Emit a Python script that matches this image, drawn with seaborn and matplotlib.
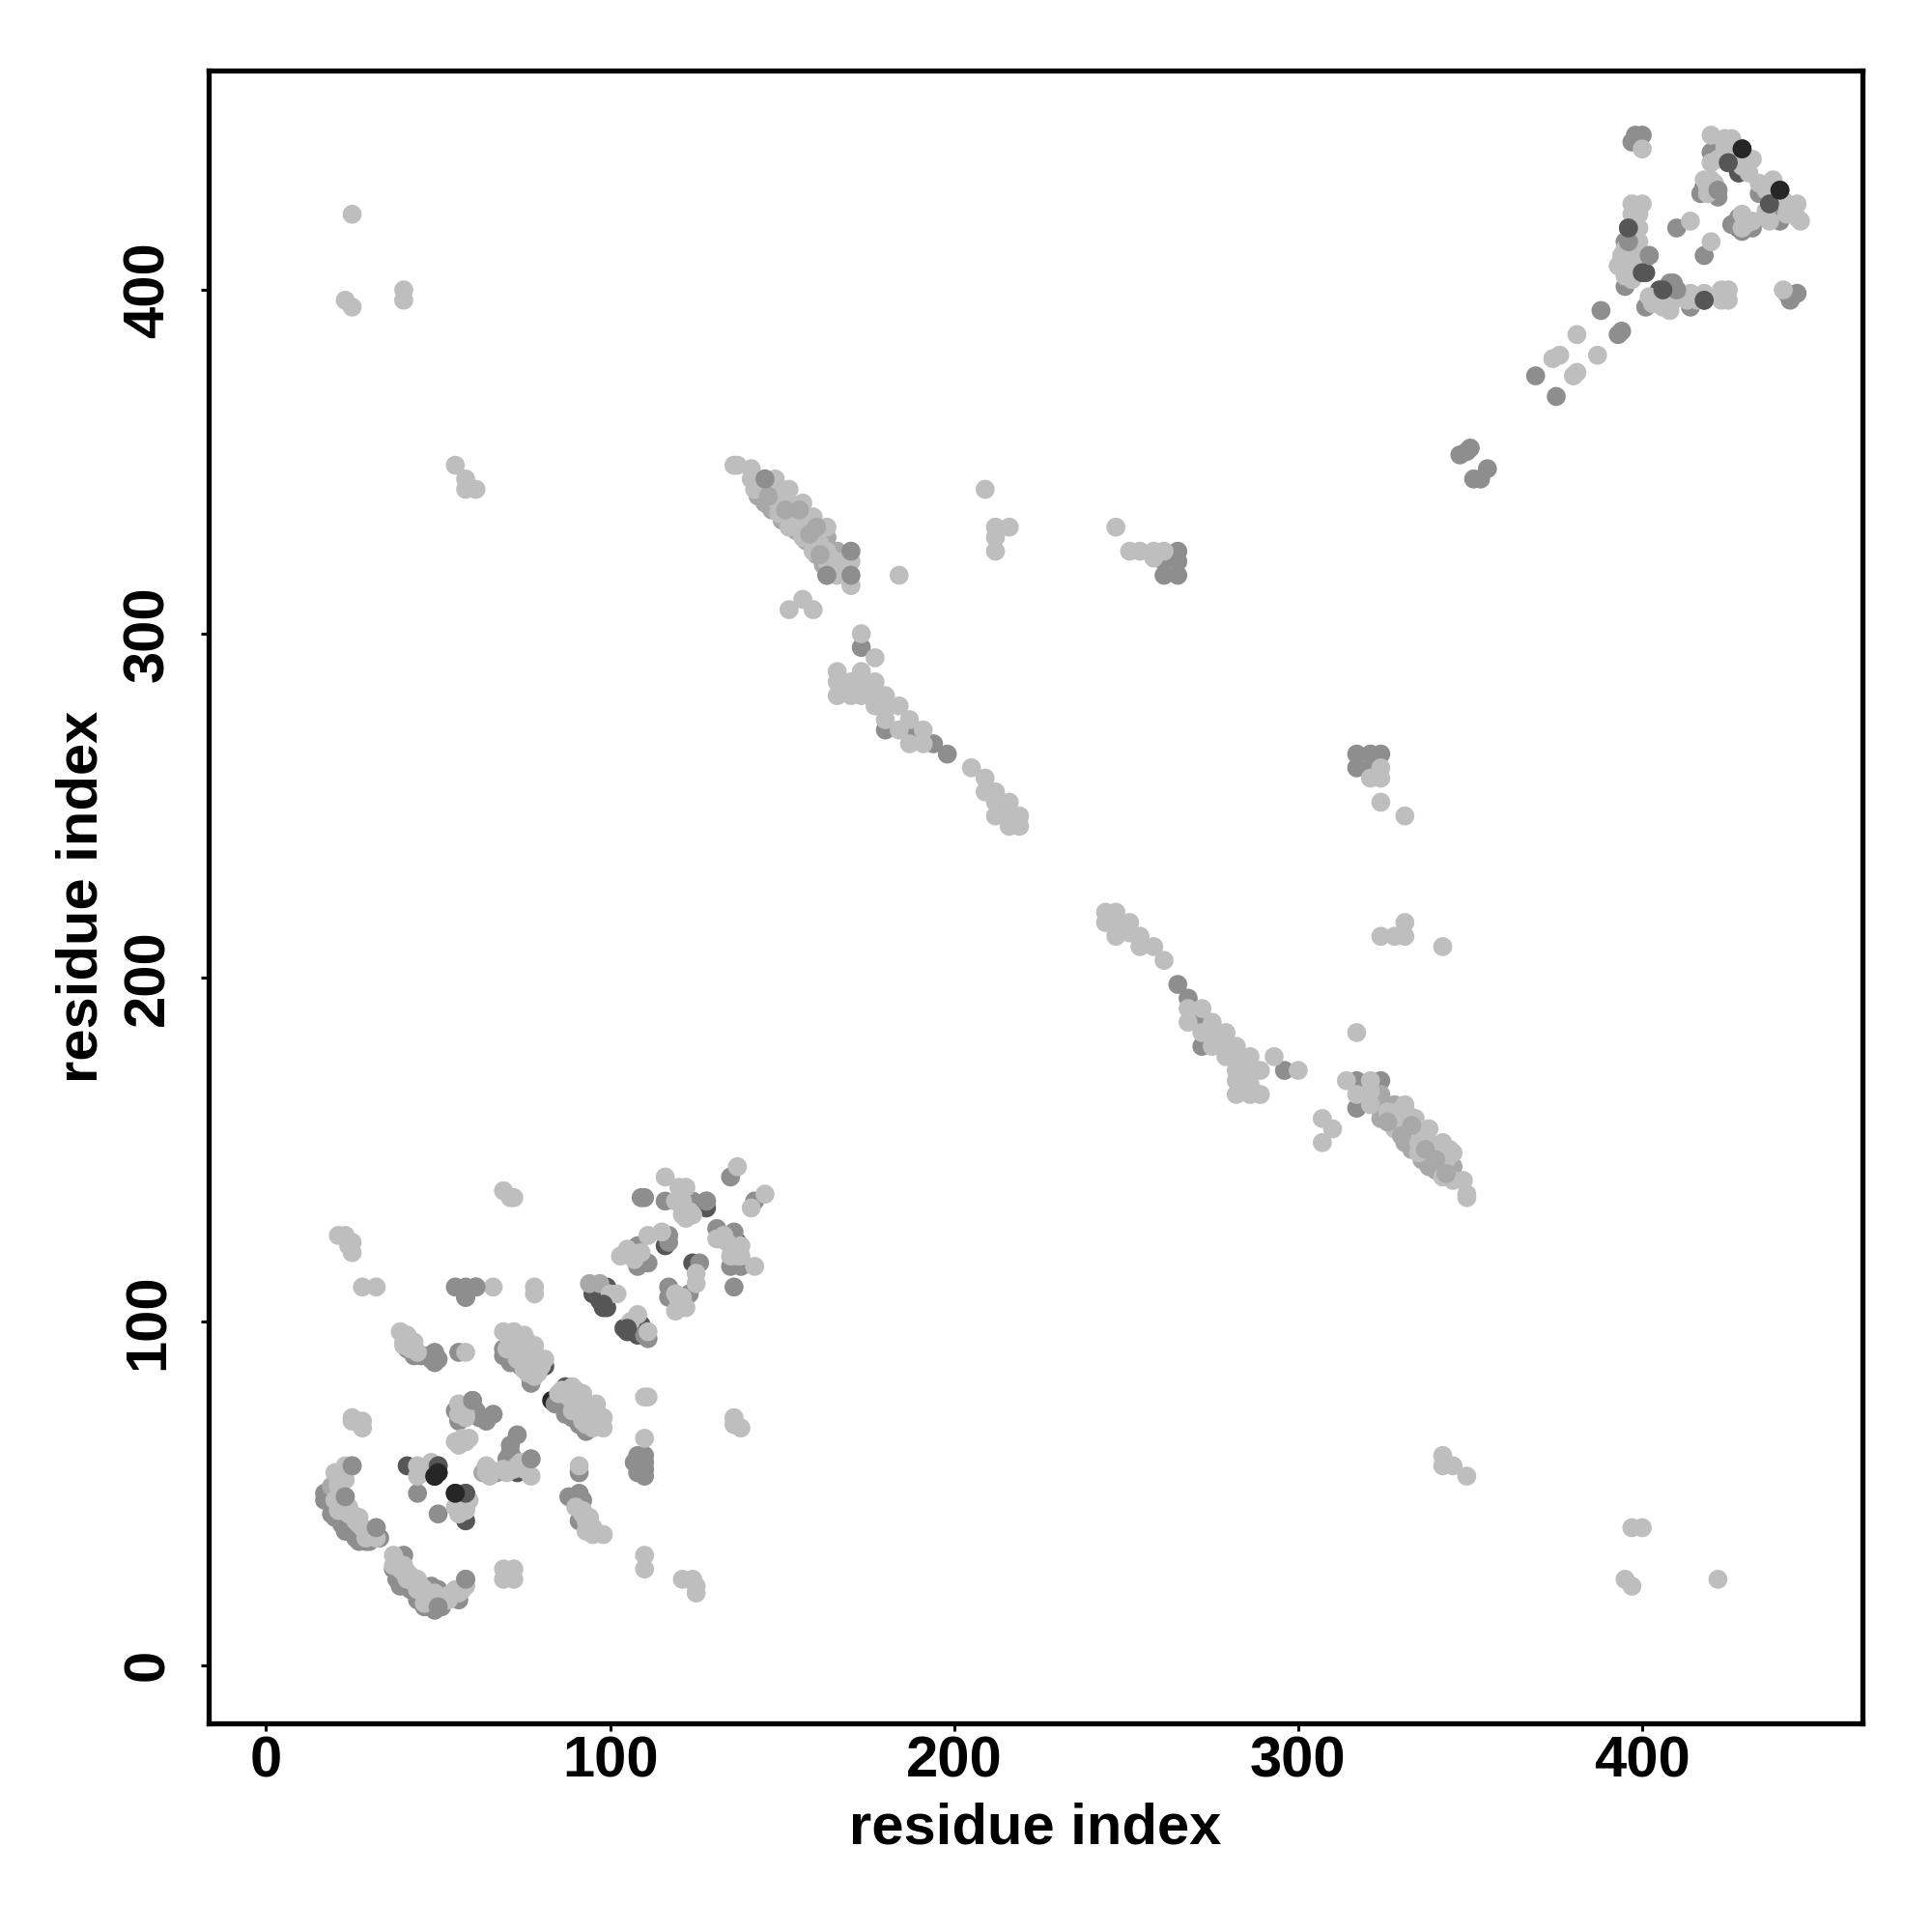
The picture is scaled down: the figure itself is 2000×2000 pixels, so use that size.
import matplotlib
matplotlib.use("Agg")
import matplotlib.pyplot as plt
import pandas as pd
import seaborn as sns

# residue contact pairs (x, y), grouped by grey level
black_pts = [(49, 55), (50, 56), (55, 50), (56, 49), (77, 83), (83, 77), (429, 441), (440, 429)]

dark_pts = [
    (41, 58), (50, 58), (58, 50), (58, 42), (73, 56), (81, 87), (87, 81),
    (99, 110), (95, 108), (98, 106), (98, 104), (104, 98), (107, 98), (109, 99),
    (96, 109), (97, 106), (99, 104), (105, 97), (108, 96),
    (124, 117), (137, 123), (116, 122), (128, 133), (396, 418), (400, 406),
    (405, 400), (418, 397), (425, 437), (428, 418), (437, 425), (418, 430),
    (428, 434), (401, 405), (406, 399),
]

mid_pts = [
    (55, 110), (58, 110), (61, 110), (58, 107), (110, 136), (116, 135), (124, 135),
    (128, 135), (135, 142), (142, 135), (117, 125), (117, 123), (108, 122), (108, 119),
    (111, 117), (108, 116), (126, 117), (117, 110), (117, 107), (123, 108), (131, 127),
    (136, 126), (135, 116), (138, 116), (136, 110), (69, 92), (72, 89), (77, 82),
    (84, 76), (87, 73), (93, 68), (41, 92), (49, 91), (49, 88), (56, 91), (43, 90),
    (60, 77), (55, 74), (56, 71), (60, 73), (64, 71), (66, 73), (73, 67), (71, 64),
    (72, 60), (77, 60), (67, 56), (71, 58), (44, 50), (50, 44), (91, 56), (91, 50),
    (88, 49), (91, 42), (110, 61), (107, 59), (110, 57), (110, 55), (25, 58), (17, 50),
    (17, 48), (23, 49), (19, 44), (23, 39), (26, 37), (32, 40), (29, 36), (40, 32),
    (38, 25), (39, 23), (44, 19), (48, 23), (50, 17), (49, 16), (51, 17), (50, 22),
    (58, 25), (56, 19), (398, 445), (397, 443), (400, 445), (420, 440), (422, 429),
    (422, 427), (434, 428), (440, 420), (440, 424), (428, 421), (432, 418), (410, 418),
    (418, 410), (395, 414), (396, 410), (402, 410), (395, 407), (395, 401), (409, 402),
    (401, 395), (407, 397), (410, 400), (414, 395), (442, 399), (443, 397), (445, 399),
    (388, 394), (394, 388), (393, 387), (369, 375), (375, 369), (347, 352), (350, 354),
    (349, 353), (353, 345), (355, 348), (351, 345), (317, 265), (321, 265), (324, 265),
    (317, 261), (321, 261), (265, 324), (261, 321), (265, 321), (261, 317), (265, 317),
    (145, 345), (163, 317), (173, 296), (180, 272), (187, 272), (194, 268), (198, 265),
    (265, 198), (268, 194), (272, 187), (272, 180), (296, 173), (317, 170), (324, 170),
    (317, 162),
    # under the dense arcs and blocks
    (37, 28), (38, 27), (40, 24), (42, 22), (46, 17), (47, 18), (19, 47), (20, 43),
    (22, 41), (24, 39), (27, 36), (30, 36), (33, 37), (42, 92), (45, 90), (47, 90),
    (50, 89), (48, 89), (62, 72), (61, 74), (71, 62), (70, 60), (108, 61), (108, 56),
    (110, 59), (90, 48), (92, 48), (111, 95), (110, 96), (69, 90), (71, 88), (74, 87),
    (89, 72), (91, 70), (93, 70), (426, 419), (429, 417), (438, 422), (417, 428),
]

soft_pts = [
    (145, 342), (145, 338), (156, 331), (163, 328), (166, 324), (324, 166), (324, 163),
    (324, 159), (328, 163), (331, 156), (331, 152), (338, 145), (342, 145), (345, 145),
    (94, 111), (97, 111), (63, 56), (21, 55), (19, 52), (143, 340), (147, 336), (150, 333),
    (154, 330), (157, 327), (160, 323), (162, 320), (333, 150), (336, 147), (340, 144),
]

light_pts = [
    # far off-diagonal contacts
    (25, 422), (23, 397), (25, 395), (40, 400), (40, 397), (55, 349), (58, 345), (58, 342),
    (61, 342), (422, 25), (395, 25), (397, 23), (397, 40), (400, 40), (342, 61), (342, 58),
    (345, 58), (349, 55),
    # strip 135-170
    (136, 349), (137, 349), (141, 348), (141, 345), (142, 342), (148, 345), (148, 342),
    (148, 339), (149, 335), (152, 342), (152, 338), (152, 331), (153, 335), (156, 338),
    (156, 334), (156, 328), (159, 334), (160, 328), (159, 324), (163, 331), (163, 324),
    (163, 321), (166, 321), (166, 317), (170, 321), (170, 314), (184, 317), (152, 307),
    (156, 310), (159, 307), (209, 342), (212, 331), (216, 331), (212, 328), (212, 324),
    (143, 344), (146, 343), (150, 340), (154, 333), (157, 331), (161, 326), (164, 322),
    # strip 166-220
    (173, 300), (177, 293), (166, 289), (173, 289), (166, 286), (170, 286), (173, 286),
    (177, 286), (166, 282), (170, 282), (173, 282), (177, 282), (180, 282), (177, 279),
    (181, 279), (184, 279), (180, 275), (184, 272), (187, 275), (187, 268), (191, 272),
    (191, 268), (205, 261), (209, 258), (209, 254), (212, 254), (212, 251), (216, 251),
    (212, 247), (216, 247), (219, 247), (216, 244), (219, 244),
    # strip 244-300
    (244, 219), (247, 219), (244, 216), (247, 216), (251, 216), (247, 212), (251, 213),
    (254, 212), (254, 209), (258, 209), (261, 205), (272, 191), (268, 191), (268, 187),
    (275, 187), (272, 184), (275, 184), (279, 184), (275, 180), (279, 177), (279, 180),
    (282, 180), (286, 177), (282, 176), (293, 177), (282, 173), (286, 173), (289, 173),
    (300, 173), (282, 170), (286, 169), (282, 166), (286, 166), (289, 166),
    (324, 212), (328, 212), (331, 212), (331, 216), (342, 209), (317, 184),
    # strip 314-349
    (314, 170), (321, 170), (317, 166), (321, 167), (321, 163), (331, 163), (328, 159),
    (328, 156), (330, 158), (334, 159), (335, 156), (338, 156), (335, 152), (335, 149),
    (338, 152), (342, 152), (341, 149), (345, 149), (342, 142), (345, 141), (348, 141),
    (349, 137), (349, 136), (307, 159), (310, 156), (307, 152),
    (326, 161), (329, 161), (332, 160), (336, 154), (339, 149), (343, 147), (344, 150),
    (247, 331), (251, 324), (254, 324), (258, 324), (261, 324), (258, 322),
    (324, 261), (324, 258), (321, 258), (324, 251), (331, 247),
    # lower left block
    (69, 138), (71, 136), (72, 136), (21, 125), (23, 125), (25, 123), (25, 120), (24, 122),
    (28, 110), (32, 110), (66, 110), (78, 110), (78, 108), (116, 142), (120, 139),
    (122, 139), (121, 135), (124, 131), (121, 131), (137, 145), (145, 137), (141, 133),
    (121, 133), (122, 130), (123, 132), (119, 135), (106, 120), (107, 118), (109, 120),
    (136, 120), (133, 125), (137, 119),
    (111, 125), (115, 126), (103, 119), (105, 121), (125, 114), (125, 111), (119, 103),
    (120, 106), (122, 104), (119, 108), (121, 107), (131, 124), (134, 123), (138, 122),
    (135, 119), (138, 119), (142, 116), (102, 108), (100, 108), (108, 102), (111, 97),
    (106, 100),
    (69, 97), (72, 97), (72, 96), (75, 96), (74, 93), (78, 93), (75, 89), (78, 89),
    (81, 89), (79, 85), (75, 86), (70, 96), (71, 95), (72, 94), (73, 93), (74, 95),
    (76, 94), (75, 91), (76, 92), (77, 90), (78, 91), (79, 88), (80, 87), (77, 87),
    (76, 85), (78, 84), (73, 91), (71, 93), (70, 92), (73, 89),
    (89, 81), (85, 79), (92, 79), (89, 77), (93, 75), (86, 80), (87, 79), (88, 78),
    (90, 80), (90, 76), (91, 75), (92, 77), (93, 73), (94, 74), (94, 72), (96, 74),
    (97, 71), (96, 70), (93, 70), (89, 74),
    (96, 76), (95, 72), (98, 72), (95, 69), (98, 69), (92, 71), (39, 97), (41, 96),
    (43, 94), (44, 91), (40, 93), (40, 94), (42, 92), (58, 91), (25, 71), (28, 71),
    (25, 72), (28, 69), (57, 75), (56, 73), (57, 66), (56, 64), (59, 66),
    (56, 76), (58, 73), (55, 65), (58, 65), (58, 72), (64, 58), (65, 57), (64, 56),
    (65, 55), (69, 57), (70, 56), (73, 58), (72, 57), (74, 59), (75, 57), (77, 55),
    (44, 58), (48, 59), (44, 55), (46, 56), (47, 57), (45, 57), (59, 48), (58, 46),
    (57, 46), (55, 46), (56, 44), (58, 45), (91, 58), (90, 46), (92, 45), (92, 44),
    (93, 42), (94, 43), (93, 39), (95, 40), (98, 38), (95, 38), (110, 66), (110, 32),
    (110, 28), (110, 78), (111, 78), (136, 72), (138, 69), (136, 70), (121, 25),
    (124, 25), (125, 21), (125, 23), (69, 28), (72, 28), (69, 25), (72, 25), (23, 58),
    (20, 56), (22, 56), (23, 54), (21, 53), (21, 52), (22, 50), (20, 48), (23, 47),
    (24, 46), (21, 45), (24, 44), (25, 44), (27, 43), (26, 42), (27, 41), (28, 40),
    (29, 39), (30, 38), (31, 38), (29, 37), (32, 37),
    (37, 32), (37, 29), (38, 30), (39, 28), (40, 29), (40, 27), (41, 27), (42, 26),
    (41, 25), (44, 25), (43, 24), (45, 23), (46, 22), (44, 22), (47, 21), (49, 21),
    (48, 20), (47, 19), (46, 18), (50, 20), (52, 20), (53, 19), (56, 21), (54, 21),
    (55, 22), (57, 22), (58, 23),
    # upper right block
    (400, 441), (420, 445), (424, 444), (426, 444), (420, 437), (424, 441), (431, 437),
    (432, 438), (424, 442), (422, 438), (426, 438), (427, 440), (429, 436), (431, 434),
    (421, 431), (419, 428), (418, 432), (420, 432), (419, 430), (438, 432), (436, 429),
    (439, 428), (441, 426), (442, 422), (443, 423), (436, 423), (434, 431), (431, 420),
    (429, 418), (437, 420), (445, 425), (445, 421), (446, 420), (429, 422), (432, 420),
    (430, 419), (414, 420), (420, 414), (397, 425), (400, 425), (397, 422), (399, 422),
    (399, 418), (399, 414), (398, 420), (398, 416), (397, 412), (398, 408), (395, 412),
    (396, 405), (394, 410), (393, 407), (395, 404), (397, 403), (402, 398), (404, 397),
    (406, 395), (409, 397), (411, 398), (413, 397), (416, 397), (403, 396), (408, 394),
    (414, 399), (418, 399), (423, 400), (425, 400), (423, 397), (425, 397), (441, 400),
    (381, 387), (374, 380), (376, 381), (387, 381), (380, 375), (381, 376),
]

# some contacts sit on top of the light ones
top_soft_pts = [
    (146, 340), (151, 336), (158, 329), (161, 323), (333, 157), (337, 150), (340, 147),
    (343, 143), (326, 158), (330, 154), (160, 331), (155, 336),
]
top_mid_pts = [
    (170, 324), (170, 317), (163, 317), (145, 345), (109, 136), (128, 135), (25, 58),
    (23, 49), (32, 40), (58, 25), (50, 17), (61, 110), (422, 429), (402, 410), (58, 107),
    (408, 402), (410, 400), (396, 414), (77, 60), (60, 77),
]
top_dark_pts = [
    (400, 405), (406, 400), (425, 437), (437, 425), (396, 418), (418, 397),
    (50, 58), (58, 50), (98, 105), (105, 98),
]
top_black_pts = [(429, 441), (440, 429), (49, 55), (50, 56), (55, 50)]

tick_values = [0, 100, 200, 300, 400]
axis_label = "residue index"

groups = [
    ("black", black_pts), ("dark", dark_pts), ("mid", mid_pts), ("soft", soft_pts),
    ("light", light_pts), ("soft", top_soft_pts), ("mid", top_mid_pts),
    ("dark", top_dark_pts), ("black", top_black_pts),
]
shades = {"black": "#262626", "dark": "#565656", "mid": "#8E8E8E", "soft": "#A8A8A8",
          "light": "#BEBEBE"}

rows = [(x, y, name) for name, pts in groups for x, y in pts]
df = pd.DataFrame(rows, columns=["x", "y", "shade"])

sns.set_theme(style="white")
plt.rcParams["font.family"] = ["Liberation Sans", "DejaVu Sans"]
plt.rcParams["font.weight"] = "bold"

fig = plt.figure(figsize=(10, 10), dpi=200)
ax = fig.add_axes([0.108, 0.108, 0.856, 0.8555])
sns.scatterplot(data=df, x="x", y="y", hue="shade", palette=shades, s=50,
                linewidth=0, legend=False, ax=ax)

ax.set_xlim(-16.7, 464)
ax.set_ylim(-16.9, 463.8)
ax.set_xticks(tick_values)
ax.set_yticks(tick_values)
ax.tick_params(axis="x", pad=1.5)
ax.tick_params(axis="y", pad=9.5)
ax.tick_params(axis="both", direction="out", length=3, width=1.1, color="black",
               labelsize=21.5, labelcolor="black", bottom=True, left=True)
plt.setp(ax.get_yticklabels(), rotation=90, va="center")
ax.set_xlabel(axis_label, fontsize=21.5, fontweight="bold", color="black", labelpad=5)
ax.set_ylabel(axis_label, fontsize=21.5, fontweight="bold", color="black", labelpad=5)
for spine in ax.spines.values():
    spine.set_visible(True)
    spine.set_color("black")
    spine.set_linewidth(1.9)

fig.savefig("out.png", dpi=200, facecolor="white")
